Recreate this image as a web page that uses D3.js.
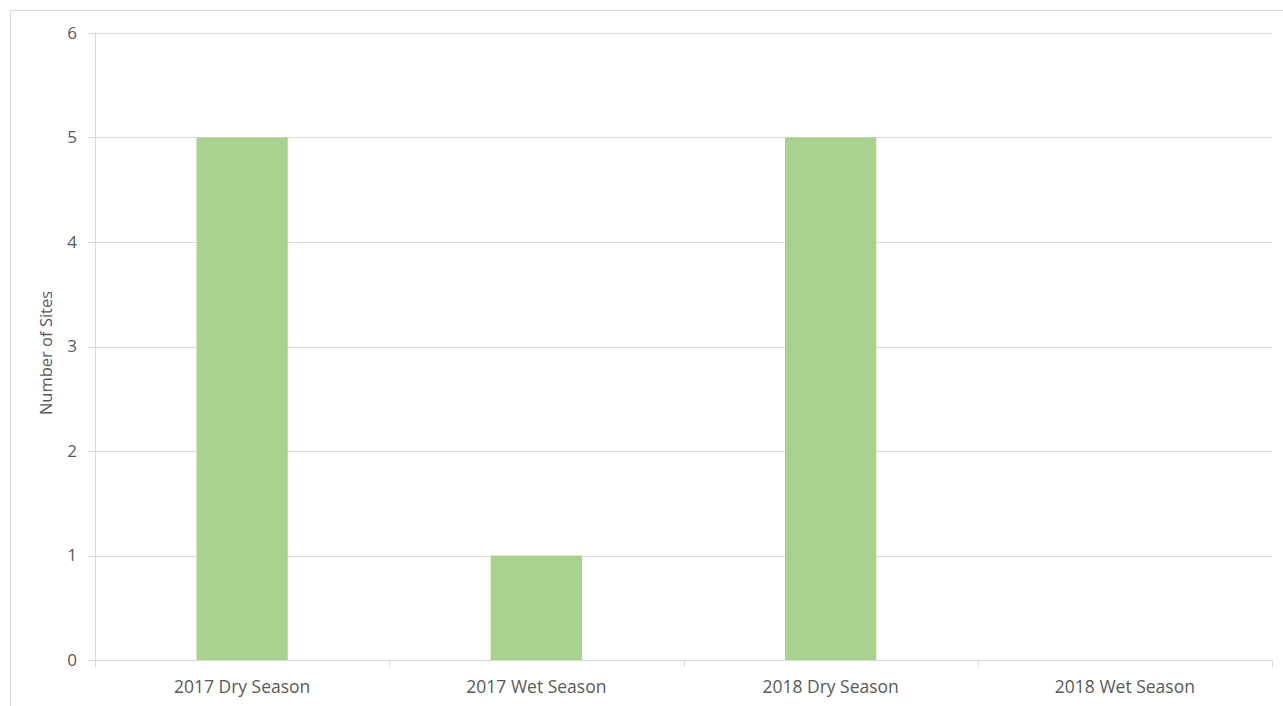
<!DOCTYPE html>
<html><head><meta charset="utf-8">
<script src="https://cdn.jsdelivr.net/npm/d3@7"></script>
<style>body{margin:0;background:#fff;}svg{display:block;font-family:"Open Sans","Noto Sans",sans-serif;}</style>
</head><body><svg id="c" width="1283" height="706"></svg>
<script>
const categories = ["2017 Dry Season","2017 Wet Season","2018 Dry Season","2018 Wet Season"];
const values = [5, 1, 5, 0];
const yTicks = [0,1,2,3,4,5,6];

(function(){
const svg = d3.select("#c");
// outer frame
svg.append("rect").attr("x",10.5).attr("y",10.5).attr("width",1290).attr("height",710)
  .attr("fill","none").attr("stroke","#d9d9d9");

const pL=95, pR=1272, pT=33, pB=660;
const x = d3.scaleBand().domain(categories).range([pL,pR]).paddingInner(0.69).paddingOuter(0.345);
const xb = d3.scaleBand().domain(categories).range([pL,pR]);
const y = d3.scaleLinear().domain([0,6]).range([pB,pT]);

// gridlines
svg.append("g").selectAll("line").data(yTicks.filter(d=>d>0)).join("line")
  .attr("x1",pL-7).attr("x2",pR).attr("y1",d=>Math.round(y(d))+0.5).attr("y2",d=>Math.round(y(d))+0.5)
  .attr("stroke","#d9d9d9");

// bars
svg.append("g").selectAll("rect").data(values).join("rect")
  .attr("x",(d,i)=>x(categories[i])).attr("width",x.bandwidth())
  .attr("y",d=>y(d)).attr("height",d=>pB-y(d)).attr("fill","#a9d18e");

// axes lines
svg.append("line").attr("x1",pL+0.5).attr("x2",pL+0.5).attr("y1",pT).attr("y2",pB).attr("stroke","#d9d9d9");
svg.append("line").attr("x1",pL-7).attr("x2",pR).attr("y1",pB+0.5).attr("y2",pB+0.5).attr("stroke","#d9d9d9");
// x category ticks
svg.append("g").selectAll("line").data(categories).join("line")
  .attr("x1",d=>Math.round(xb(d)+xb.bandwidth())+0.5).attr("x2",d=>Math.round(xb(d)+xb.bandwidth())+0.5)
  .attr("y1",pB).attr("y2",pB+7).attr("stroke","#d9d9d9");
svg.append("line").attr("x1",pL+0.5).attr("x2",pL+0.5).attr("y1",pB).attr("y2",pB+7).attr("stroke","#d9d9d9");

// y labels
svg.append("g").selectAll("text").data(yTicks).join("text")
  .attr("x",77).attr("y",d=>y(d)).attr("dy","0.35em").attr("text-anchor","end")
  .attr("font-size",17).attr("fill","#595959").text(d=>d);

// x labels
svg.append("g").selectAll("text").data(categories).join("text")
  .attr("x",d=>xb(d)+xb.bandwidth()/2).attr("y",687).attr("dy","0.35em").attr("text-anchor","middle")
  .attr("font-size",17.5).attr("fill","#595959").text(d=>d);

// y title
svg.append("text").attr("transform","translate(46,353) rotate(-90)").attr("text-anchor","middle")
  .attr("dy","0.35em").attr("font-size",16.5).attr("fill","#595959").text("Number of Sites");
})();
</script></body></html>
